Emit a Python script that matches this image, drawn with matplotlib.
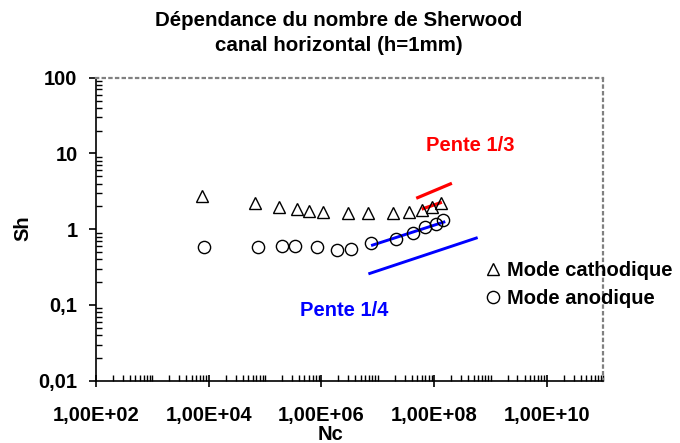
import numpy as np
import matplotlib
matplotlib.use('Agg')
import matplotlib.pyplot as plt
from matplotlib.ticker import FixedLocator, LogLocator, FuncFormatter

plt.rcParams['font.family'] = ['Liberation Sans', 'DejaVu Sans']
plt.rcParams['font.weight'] = 'bold'

# Sherwood number vs Nc, cathodic mode
nc_cath = [7.5e3, 6.6e4, 1.8e5, 3.65e5, 5.9e5, 1.08e6, 3.0e6, 6.6e6,
           1.85e7, 3.6e7, 6.0e7, 9.1e7, 1.31e8]
sh_cath = [2.78, 2.24, 1.99, 1.84, 1.74, 1.68, 1.63, 1.63,
           1.63, 1.69, 1.80, 1.97, 2.24]

# anodic mode
nc_anod = [8.4e3, 7.6e4, 1.98e5, 3.4e5, 8.3e5, 1.87e6, 3.4e6, 7.6e6,
           2.1e7, 4.2e7, 6.9e7, 1.07e8, 1.46e8]
sh_anod = [0.584, 0.584, 0.608, 0.597, 0.584, 0.533, 0.550, 0.666,
           0.738, 0.885, 1.06, 1.16, 1.33]

# slope guides (start/end points)
slope13_a_x = [4.8e7, 2.06e8]
slope13_a_y = [2.56, 4.04]
slope13_b_x = [6.0e7, 1.37e8]
slope13_b_y = [1.84, 2.27]
slope14_a_x = [7.6e6, 1.57e8]
slope14_a_y = [0.608, 1.26]
slope14_b_x = [6.8e6, 5.9e8]
slope14_b_y = [0.257, 0.775]

FS = 14.5

fig = plt.figure(figsize=(6.8, 4.43), dpi=100)
ax = fig.add_axes([96 / 680, 1 - 380.7 / 443, 507.3 / 680, 303 / 443])
ax.set_xscale('log')
ax.set_yscale('log')
ax.set_xlim(1e2, 1e11)
ax.set_ylim(1e-2, 1e2)

ax.plot(slope13_a_x, slope13_a_y, color='#ff0000', lw=2.3, solid_capstyle='butt')
ax.plot(slope13_b_x, slope13_b_y, color='#ff0000', lw=2.3, solid_capstyle='butt')
ax.plot(slope14_a_x, slope14_a_y, color='#0000ff', lw=2.1, solid_capstyle='butt')
ax.plot(slope14_b_x, slope14_b_y, color='#0000ff', lw=2.1, solid_capstyle='butt')

ax.plot(nc_cath, sh_cath, ls='none', marker='^', ms=9, mfc='none', mec='black',
        mew=1.0, label='Mode cathodique')
ax.plot(nc_anod, sh_anod, ls='none', marker='o', ms=8.8, mfc='none', mec='black',
        mew=1.0, label='Mode anodique')

ax.text(4.35e8, 12.9, 'Pente 1/3', color='#ff0000', fontsize=FS, fontweight='bold',
        ha='center', va='center')
ax.text(2.5e6, 0.085, 'Pente 1/4', color='#0000ff', fontsize=FS, fontweight='bold',
        ha='center', va='center')

ax.legend(loc='upper left', bbox_to_anchor=(0.763, 0.395), frameon=False,
          fontsize=FS, handlelength=1.0, handletextpad=0.2, borderpad=0,
          labelspacing=0.45, borderaxespad=0)

# axes frame: solid left/bottom, dotted grey top/right
for side in ['left', 'bottom']:
    ax.spines[side].set_color('black')
    ax.spines[side].set_linewidth(1.2)
for side in ['top', 'right']:
    ax.spines[side].set_color('#808080')
    ax.spines[side].set_linewidth(1.6)
    ax.spines[side].set_linestyle((0, (1, 2)))

ax.xaxis.set_major_locator(FixedLocator([1e2, 1e4, 1e6, 1e8, 1e10]))
ax.xaxis.set_minor_locator(LogLocator(base=10, subs=np.arange(1, 10), numticks=100))
ax.yaxis.set_major_locator(FixedLocator([1e-2, 1e-1, 1, 10, 100]))
ax.yaxis.set_minor_locator(LogLocator(base=10, subs=np.arange(2, 10), numticks=100))
ax.xaxis.set_major_formatter(FuncFormatter(lambda v, _: f'{v:.2E}'.replace('.', ',')))
ax.yaxis.set_major_formatter(FuncFormatter(lambda v, _: f'{v:g}'.replace('.', ',')))
ax.xaxis.set_minor_formatter(FuncFormatter(lambda v, _: ''))
ax.yaxis.set_minor_formatter(FuncFormatter(lambda v, _: ''))

ax.tick_params(axis='y', which='major', direction='out', length=5.3, width=1.2,
               pad=8, labelsize=FS)
ax.tick_params(axis='y', which='minor', direction='in', length=4, width=1)
ax.tick_params(axis='x', which='major', direction='inout', length=8, width=1.2,
               pad=14, labelsize=FS)
ax.tick_params(axis='x', which='minor', direction='in', length=4, width=1)
ax.tick_params(top=False, right=False, which='both')

ax.set_xlabel('Nc', fontsize=FS, fontweight='bold', va='center')
ax.xaxis.set_label_coords(0.463, -0.177)
ax.set_ylabel('Sh', fontsize=FS, fontweight='bold', va='center')
ax.yaxis.set_label_coords(-0.144, 0.504)

fig.text(339 / 680, 1 - 33 / 443,
         'Dépendance du nombre de Sherwood\ncanal horizontal (h=1mm)',
         ha='center', va='center', fontsize=14.8, fontweight='bold', linespacing=1.4)

fig.savefig('out.png', dpi=100)
